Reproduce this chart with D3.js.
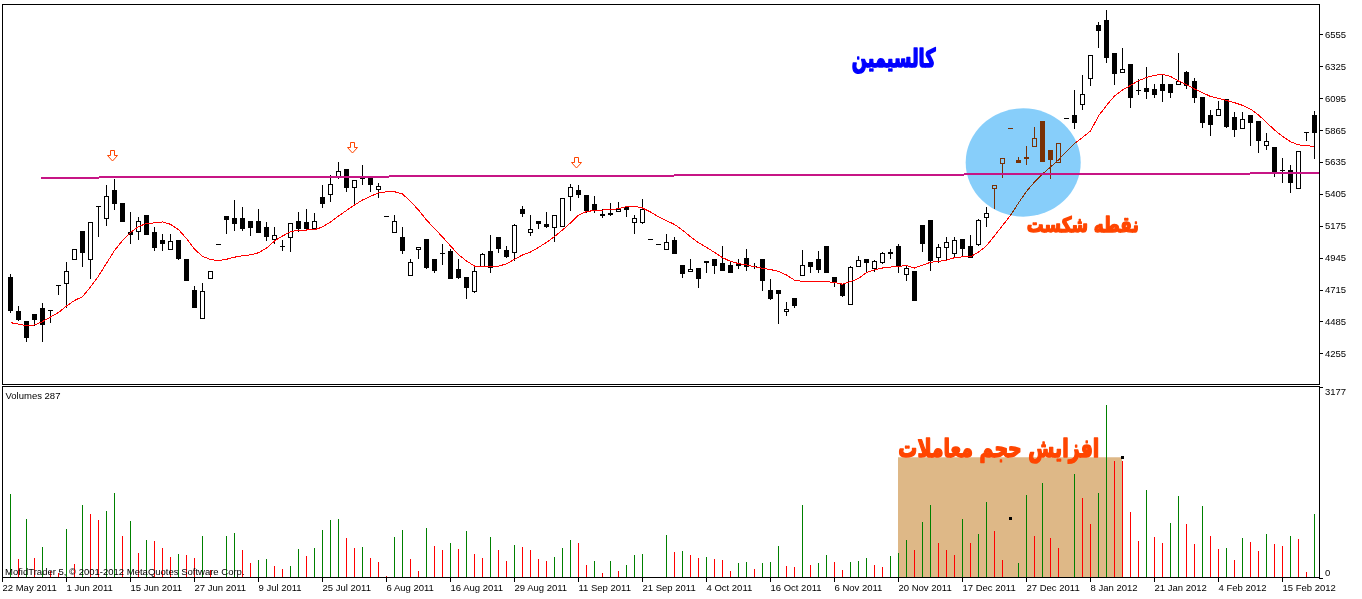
<!DOCTYPE html>
<html><head><meta charset="utf-8">
<script src="https://cdn.jsdelivr.net/npm/d3@7"></script>
<style>
body{margin:0;background:#fff;}
svg{display:block;}
.lbl{font-family:"Liberation Sans",Arial,sans-serif;font-size:9.5px;fill:#000;}
</style>
</head><body>
<svg id="c" width="1362" height="599"></svg>
<script>
// ---------- DATA ----------
const open = [
4803,4560,4488,4538,4580,4565,4745,4760,4933,5139,
4933,5315,5228,5432,5339,5132,5135,5250,5130,5072,
5005,5072,4935,4709,4507,4796,5041,5243,5228,5228,
5209,5209,5163,5077,5031,5096,5209,5204,5161,5382,
5401,5536,5584,5456,5517,5528,5437,5243,5127,5091,
4817,5005,5079,4935,4980,4993,4865,4805,4706,4887,
4990,5094,5000,4983,5295,5127,5207,5187,5163,5175,
5389,5432,5394,5332,5262,5267,5279,5310,5204,5204,
5079,5043,5009,5070,4890,4846,4868,4923,4935,4904,
4890,4899,4940,4887,4935,4711,4711,4558,4652,4817,
4911,4933,5029,4803,4753,4608,4882,4933,4868,4911,
4988,5029,4825,4848,5178,5214,4951,5019,4976,5077,
5029,5045,5240,5445,5629,5879,5651,5670,5752,5930,
5721,5636,5952,5973,6050,6238,6622,6658,6420,6285,
6341,6151,6166,6161,6195,6195,6195,6283,6216,6103,
5971,5971,6086,5957,5877,5973,5930,5757,5742,5577,
5577,5445,5848,5973];
const high = [
4825,4596,4488,4538,4616,4565,4745,4913,5007,5139,
5202,5315,5466,5512,5339,5274,5236,5250,5163,5113,
5113,5072,4935,4742,4760,4846,5041,5243,5360,5312,
5209,5293,5204,5163,5072,5192,5276,5295,5267,5471,
5543,5634,5584,5505,5613,5528,5483,5243,5252,5166,
4935,5019,5079,4935,5043,5007,4935,4805,4887,4980,
5106,5094,5027,5187,5315,5252,5207,5274,5250,5373,
5476,5468,5394,5389,5293,5337,5344,5317,5250,5368,
5079,5043,5115,5096,4890,4935,4868,4923,4935,5029,
4915,4933,5007,4904,4935,4789,4711,4623,4652,5000,
4911,4993,5029,4803,4753,4884,4957,4933,4930,4985,
5005,5041,4887,4848,5178,5214,5043,5096,5091,5077,
5108,5226,5308,5466,5661,5879,5668,5747,5889,5930,
5721,5771,5952,6153,6262,6406,6646,6732,6420,6458,
6341,6233,6319,6195,6267,6195,6420,6288,6238,6103,
6009,6074,6086,5995,5995,5973,5930,5841,5742,5663,
5613,5714,5848,6002];
const low = [
4553,4495,4344,4459,4344,4483,4683,4591,4933,4884,
4800,5103,5182,5295,5211,5052,5079,5117,4998,5000,
5005,4937,4781,4591,4507,4796,5041,5125,5144,5144,
5110,5132,5070,5050,4998,4995,5139,5158,5161,5310,
5353,5519,5427,5341,5476,5427,5384,5243,5127,4980,
4817,4944,4872,4843,4901,4800,4796,4656,4699,4882,
4841,4988,4947,4928,5247,5106,5158,5163,5067,5175,
5288,5384,5272,5272,5236,5252,5279,5247,5125,5197,
5079,5043,5009,4980,4807,4846,4735,4843,4832,4858,
4843,4868,4853,4870,4709,4644,4476,4533,4591,4817,
4839,4843,4843,4738,4668,4608,4882,4841,4846,4904,
4944,4843,4781,4637,4995,4858,4915,4928,4951,4959,
4947,5038,5173,5305,5528,5879,5636,5618,5752,5642,
5519,5636,5952,5877,6014,6189,6466,6357,6197,6285,
6033,6122,6098,6105,6076,6103,6195,6170,6069,5889,
5827,5971,5884,5824,5877,5757,5709,5726,5531,5492,
5416,5445,5795,5665];
const close = [
4567,4500,4370,4505,4468,4565,4745,4846,5007,4988,
5202,5315,5387,5337,5211,5117,5209,5117,5024,5048,
5062,4944,4781,4591,4702,4846,5041,5226,5197,5161,
5163,5132,5103,5108,5031,5192,5156,5158,5209,5341,
5476,5569,5456,5505,5517,5474,5461,5243,5209,5002,
4911,5019,4879,4858,4980,4800,4805,4733,4846,4971,
4879,5016,4957,5178,5269,5149,5192,5171,5250,5373,
5452,5404,5290,5288,5252,5257,5293,5298,5233,5293,
5079,5043,5055,4980,4836,4861,4800,4913,4890,4858,
4843,4890,4884,4887,4781,4656,4688,4572,4605,4890,
4887,4865,4843,4778,4678,4875,4926,4915,4918,4976,
4980,4892,4868,4637,5052,4928,5021,5055,5072,5016,
4951,5216,5264,5466,5661,5879,5636,5661,5807,5642,
5656,5771,5952,5925,6122,6406,6588,6394,6278,6305,
6105,6151,6146,6127,6151,6141,6216,6189,6105,5925,
5906,6014,5896,5870,5942,5920,5795,5784,5572,5577,
5488,5714,5848,5853];
const volume = [
1392,311,976,328,511,100,80,810,228,1209,
1059,960,1109,1409,693,943,411,627,610,494,
344,394,377,328,693,120,10,693,743,461,
244,294,311,195,145,195,477,361,494,793,
960,976,660,494,511,328,261,28,677,793,
311,111,827,527,461,577,477,777,394,328,
677,461,278,544,511,461,311,278,344,494,
627,577,211,278,78,278,111,211,377,394,
12,0,710,427,444,377,328,344,311,294,
111,244,250,145,244,261,527,195,178,1209,
211,244,377,261,128,261,278,328,211,178,
361,411,627,461,926,1209,577,461,377,976,
577,727,1259,777,294,12,244,1375,693,1575,
660,494,12,1725,1325,893,1409,2872,1941,1930,
1093,610,1458,677,577,910,1359,893,560,1192,
693,477,494,294,660,594,444,727,560,527,
693,644,95,1059];
const movingAvg = [
4476,4466,4454,4459,4483,4517,4549,4596,4636,4663,
4733,4812,4904,4996,5068,5126,5169,5191,5195,5202,
5185,5147,5082,5007,4953,4932,4923,4933,4948,4958,
4965,4980,5013,5065,5101,5130,5144,5144,5146,5166,
5202,5245,5285,5324,5360,5387,5411,5420,5420,5404,
5350,5288,5216,5155,5094,5029,4967,4921,4884,4884,
4884,4884,4899,4933,4964,4985,5019,5054,5097,5144,
5195,5251,5277,5285,5288,5291,5297,5313,5315,5303,
5274,5239,5211,5184,5143,5095,5053,5019,4983,4945,
4918,4902,4892,4879,4868,4859,4845,4820,4782,4773,
4773,4773,4771,4766,4753,4772,4794,4837,4856,4870,
4877,4882,4887,4870,4890,4911,4918,4927,4944,4951,
4951,4985,5030,5102,5176,5249,5339,5422,5490,5548,
5598,5649,5711,5768,5811,5858,5966,6042,6110,6153,
6187,6220,6244,6259,6267,6251,6218,6192,6161,6134,
6107,6094,6078,6062,6043,6016,5973,5920,5865,5819,
5781,5758,5751,5748];

const priceTicks = [6555,6325,6095,5865,5635,5405,5175,4945,4715,4485,4255];
const volumeTicks = [3177,0];
const dateTickIndex = [-1,7,15,23,31,39,47,55,63,71,79,87,95,103,111,119,127,135,143,151,159];
const dateTickLabels = ["22 May 2011","1 Jun 2011","15 Jun 2011","27 Jun 2011","9 Jul 2011","25 Jul 2011",
  "6 Aug 2011","16 Aug 2011","29 Aug 2011","11 Sep 2011","21 Sep 2011","4 Oct 2011","16 Oct 2011",
  "6 Nov 2011","20 Nov 2011","17 Dec 2011","27 Dec 2011","8 Jan 2012","21 Jan 2012","4 Feb 2012","15 Feb 2012"];

// annotations (bar index / price or volume)
const trendIndex = [3.9,163.6];
const trendPrice = [5521,5553];
const arrowIndex = [13,43,71];
const arrowPrice = [5644,5701,5593];
const ellipseIndex = [119.46,133.84];
const ellipsePrice = [5240,6021.5];
const volBoxIndex = [111,139];
const volBoxValue = 2000;
const anchorIndex = [139,125];
const anchorValue = [2000,990];
const titleText = "کالسیمین";
const breakText = "نقطه شکست";
const volText = "افزایش حجم معاملات";

// ---------- DRAW ----------
const W=1362,H=599;
const svg=d3.select("#c");
svg.append("rect").attr("width",W).attr("height",H).attr("fill","#fff");

const x=d3.scaleLinear().domain([0,163]).range([10,1314]);
const y=d3.scaleLinear().domain([4255,6555]).range([353.3,34.3]);
const yv=d3.scaleLinear().domain([0,3177]).range([577.5,386.5]);
const AX=1319.5;

// volume highlight box
svg.append("rect")
  .attr("x",x(volBoxIndex[0])).attr("y",yv(volBoxValue))
  .attr("width",x(volBoxIndex[1])-x(volBoxIndex[0]))
  .attr("height",yv(0)-yv(volBoxValue))
  .attr("fill","#DEB887");

// volume bars
const gv=svg.append("g").attr("shape-rendering","crispEdges");
volume.forEach((v,i)=>{
  if(v<=0) return;
  const cx=Math.round(x(i))+0.5;
  const col = (i===0 || v>volume[i-1]) ? "#008000" : "#FF0000";
  gv.append("line").attr("x1",cx).attr("x2",cx)
    .attr("y1",Math.round(yv(0))).attr("y2",Math.round(yv(v)))
    .attr("stroke",col).attr("stroke-width",1);
});

// anchors
anchorIndex.forEach((a,k)=>{
  svg.append("rect").attr("x",Math.round(x(a))-1).attr("y",Math.round(yv(anchorValue[k]))-1)
    .attr("width",3).attr("height",3).attr("fill","#000");
});

svg.append("text").attr("class","lbl").attr("x",5).attr("y",574.5)
  .text("MofidTrader 5, © 2001-2012 MetaQuotes Software Corp.");
svg.append("text").attr("class","lbl").attr("x",5.5).attr("y",399)
  .text("Volumes 287");

// candles
const gc=svg.append("g").attr("shape-rendering","crispEdges");
open.forEach((o,i)=>{
  const c=close[i], h=high[i], l=low[i];
  const cx=Math.round(x(i));
  const yh=Math.round(y(h)), yl=Math.round(y(l));
  const yo=Math.round(y(o)), yc=Math.round(y(c));
  if(yl>yh){
    gc.append("line").attr("x1",cx+0.5).attr("x2",cx+0.5).attr("y1",yh).attr("y2",yl+1)
      .attr("stroke","#000").attr("stroke-width",1);
  }
  if(c<o){
    gc.append("rect").attr("x",cx-2).attr("y",yo).attr("width",5)
      .attr("height",Math.max(1,yc-yo+1)).attr("fill","#000");
  } else if(c>o && yo-yc>=2){
    gc.append("rect").attr("x",cx-1.5).attr("y",yc+0.5).attr("width",4)
      .attr("height",yo-yc).attr("fill","#fff").attr("stroke","#000").attr("stroke-width",1);
  } else {
    gc.append("line").attr("x1",cx-2).attr("x2",cx+3).attr("y1",yo+0.5).attr("y2",yo+0.5)
      .attr("stroke","#000").attr("stroke-width",1);
  }
});

// moving average
svg.append("path").datum(movingAvg)
  .attr("d",d3.line().x((d,i)=>x(i)+0.5).y(d=>y(d)))
  .attr("fill","none").attr("stroke","#FF0000").attr("stroke-width",1)
  .attr("shape-rendering","crispEdges");

// highlight ellipse (inverting blend, so black->brown, white->light blue)
svg.append("ellipse")
  .attr("cx",(x(ellipseIndex[0])+x(ellipseIndex[1]))/2)
  .attr("cy",(y(ellipsePrice[0])+y(ellipsePrice[1]))/2)
  .attr("rx",(x(ellipseIndex[1])-x(ellipseIndex[0]))/2)
  .attr("ry",(y(ellipsePrice[0])-y(ellipsePrice[1]))/2)
  .attr("fill","rgb(120,49,5)")
  .style("mix-blend-mode","difference");

// trend line
svg.append("line")
  .attr("x1",x(trendIndex[0])).attr("y1",y(trendPrice[0]))
  .attr("x2",x(trendIndex[1])).attr("y2",y(trendPrice[1]))
  .attr("stroke","#C71585").attr("stroke-width",2).attr("shape-rendering","crispEdges");

// arrows
arrowIndex.forEach((a,k)=>{
  const ax=Math.round(x(a))-1.5, ay=Math.round(y(arrowPrice[k]));
  svg.append("path")
    .attr("d",`M${ax},${ay} L${ax-5},${ay-5.5} H${ax-2} V${ay-10.5} H${ax+2} V${ay-5.5} H${ax+5} Z`)
    .attr("fill","#fff").attr("stroke","#FF4500").attr("stroke-width",1);
});

// persian labels, fitted to target width and stretched to a heavier, taller look
function fitText(str,color,cx,cy,w,sy){
  const t=svg.append("text").text(str)
    .attr("font-family","'DejaVu Sans',sans-serif").attr("font-weight","bold")
    .attr("fill",color).attr("stroke",color).attr("stroke-width",1.1)
    .attr("stroke-linejoin","round")
    .attr("font-size",20).attr("x",0).attr("y",0);
  let bb=t.node().getBBox();
  t.attr("font-size",20*(w-1)/bb.width);
  bb=t.node().getBBox();
  t.attr("x",cx-(bb.x+bb.width/2)).attr("y",cy-(bb.y+bb.height/2))
   .attr("transform",`translate(0,${cy}) scale(1,${sy}) translate(0,${-cy})`);
}
fitText(titleText,"#0000FF",x(110.5),y(6377),85,1.45);
fitText(breakText,"#FF4500",x(134.1),y(5187),113,1.25);
fitText(volText,"#FF4500",x(123.6),yv(2149),202,1.35);

// panel frames
const gf=svg.append("g").attr("shape-rendering","crispEdges").attr("stroke","#000").attr("fill","none");
gf.append("rect").attr("x",2.5).attr("y",4.5).attr("width",AX-2.5).attr("height",380);
gf.append("path").attr("d",`M2.5,577.5 V386.5 H${AX} V577.5 Z`);

// price axis
const fmt=d3.format("d");
const pa=svg.append("g").attr("transform",`translate(${AX-0.5},0)`)
  .call(d3.axisRight(y).tickValues(priceTicks).tickFormat(fmt).tickSize(4).tickPadding(2).tickSizeOuter(0));
pa.select(".domain").remove();
pa.selectAll("text").attr("class","lbl").attr("font-family",null).attr("font-size",null);
pa.selectAll("line").attr("shape-rendering","crispEdges");

// volume axis
const va=svg.append("g").attr("transform",`translate(${AX-0.5},0)`)
  .call(d3.axisRight(yv).tickValues(volumeTicks).tickFormat(fmt).tickSize(4).tickPadding(2).tickSizeOuter(0));
va.select(".domain").remove();
va.selectAll("text").attr("class","lbl").attr("font-family",null).attr("font-size",null)
  .attr("dy",d=>d>0?"0.85em":"-0.2em");
va.selectAll("line").attr("shape-rendering","crispEdges");

// date axis
const da=svg.append("g").attr("transform","translate(0,577)")
  .call(d3.axisBottom(x).tickValues(dateTickIndex).tickFormat((d,i)=>dateTickLabels[i])
    .tickSize(5).tickPadding(2).tickSizeOuter(0));
da.select(".domain").remove();
da.selectAll("text").attr("class","lbl").attr("font-family",null).attr("font-size",null)
  .attr("text-anchor","start");
da.selectAll("line").attr("shape-rendering","crispEdges");
</script>
</body></html>
